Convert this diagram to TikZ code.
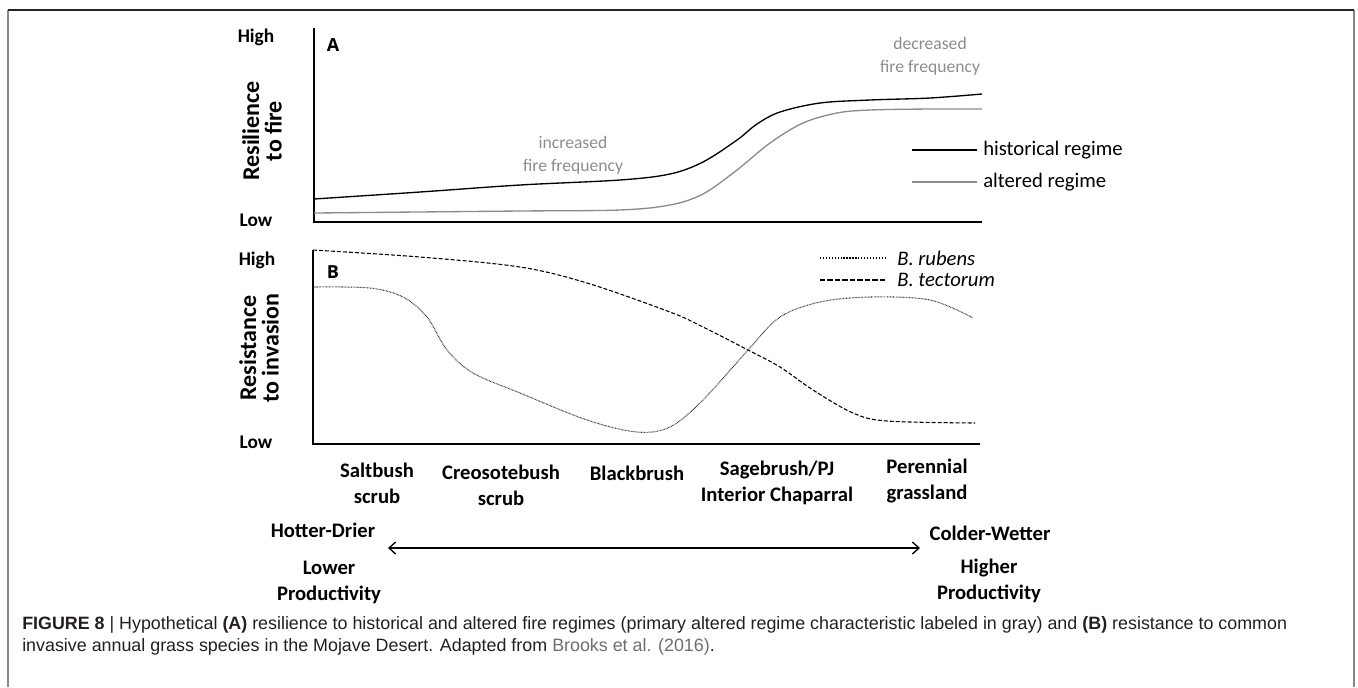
\documentclass[tikz,border=0pt]{standalone}
\usepackage{fontspec}
\setmainfont{Carlito}
\newfontfamily\capfont{Liberation Sans}
\newfontfamily\axfont{Open Sans}
\usetikzlibrary{positioning,arrows.meta}

\definecolor{fregray}{RGB}{140,140,140}
\definecolor{framegray}{RGB}{135,135,135}
\definecolor{capblack}{RGB}{35,31,32}
\definecolor{linkgray}{RGB}{110,110,110}

\tikzset{
    axisline/.style={line width=1.5pt},
    histline/.style={line width=1pt, black},
    altline/.style={line width=1pt, fregray},
    rubensline/.style={line width=0.8pt, black!85, dash pattern=on 0.5pt off 0.6pt},
    tectline/.style={line width=0.8pt, black, dash pattern=on 3pt off 1.5pt},
    lvl/.style={inner sep=0pt, font=\bfseries\fontsize{14.5}{17}\selectfont},
    panel/.style={inner sep=0pt, font=\axfont\bfseries\fontsize{13.5}{16}\selectfont},
    ylab/.style={inner sep=0pt, rotate=90, align=center, font=\bfseries\fontsize{18}{17}\selectfont},
    note/.style={inner sep=0pt, align=center, text=fregray, font=\fontsize{13.2}{17.2}\selectfont},
    legtext/.style={inner sep=0pt, anchor=west, font=\fontsize{15.5}{18}\selectfont},
    veg/.style={inner sep=0pt, align=center, font=\bfseries\fontsize{15.5}{19.5}\selectfont},
}

\begin{document}
\begin{tikzpicture}[x=0.75pt, y=-0.75pt]
    \useasboundingbox (0,0) rectangle (1358,687);

    % frame round figure and caption
    \draw[framegray, line width=1.5pt] (8,687) -- (8,10);
    \draw[framegray, line width=1.5pt] (1354,687) -- (1354,10);
    \draw[black!85, line width=1pt] (8,10) -- (1354,10);

    % panel A
    \coordinate (A0) at (314,222); % origin of A
    \coordinate (Atop) at (314,28);
    \coordinate (Aend) at (982,222);
    \draw[axisline] (Atop) -- (A0) -- (Aend);
    \node[lvl] (Ahigh) at (256,37) {High};
    \node[lvl] (Alow) at (256,220) {Low};
    \node[panel] (Alab) at (333,45) {A};
    \node[ylab] (Aylab) at (262,131) {Resilience\\to fire};

    \draw[histline] plot[smooth, tension=0.55] coordinates {
        (314,199) (420,192) (520,185) (620,180) (670,174) (703,162) (737,140)
        (757,124) (780,112) (820,103) (870,100) (930,98) (982,94)};
    \draw[altline] plot[smooth, tension=0.55] coordinates {
        (314,213) (520,211) (620,210) (670,205) (703,194) (737,170) (770,143)
        (803,123) (837,113) (870,110) (930,109) (982,109)};

    \node[note] (incr) at (573,155) {increased\\fire frequency};
    \node[note] (decr) at (930,56) {decreased\\fire frequency};

    % legend A
    \coordinate (hL) at (912,150);
    \coordinate (hR) at (977,150);
    \coordinate (aL) at (912,182);
    \coordinate (aR) at (977,182);
    \draw[line width=1.8pt] (hL) -- (hR);
    \draw[line width=1.8pt, fregray] (aL) -- (aR);
    \node[legtext, right=4.5pt of hR] (hist) {historical regime};
    \node[legtext, right=4.5pt of aR] (alt) {altered regime};

    % panel B
    \coordinate (B0) at (313,444); % origin of B
    \coordinate (Btop) at (313,250);
    \coordinate (Bend) at (980,444);
    \draw[axisline] (Btop) -- (B0) -- (Bend);
    \node[lvl] (Bhigh) at (257,260) {High};
    \node[lvl] (Blow) at (256,442) {Low};
    \node[panel] (Blab) at (333,272) {B};
    \node[ylab] (Bylab) at (259,348) {Resistance\\to invasion};

    \draw[tectline] plot[smooth, tension=0.55] coordinates {
        (313,250) (420,257) (520,267) (587,283) (670,312) (703,327) (748,350)
        (780,367) (813,390) (853,413) (887,421) (975,423)};
    \draw[rubensline] plot[smooth, tension=0.55] coordinates {
        (313,287) (370,288) (403,297) (427,317) (447,350) (473,373) (520,393)
        (587,420) (637,432) (670,427) (703,400) (748,350) (780,317) (820,302)
        (870,297) (930,300) (973,318)};

    % legend B
    \coordinate (rL) at (820,258);
    \coordinate (rR) at (885,258);
    \coordinate (tL) at (820,280);
    \coordinate (tR) at (885,280);
    \draw[line width=1.5pt, dash pattern=on 1pt off 1.2pt] (rL) -- (rR);
    \draw[line width=1.5pt, dash pattern=on 4pt off 1.6pt] (tL) -- (tR);
    \node[legtext, right=9pt of rR, font=\itshape\fontsize{15.5}{18}\selectfont] (rub) {B. rubens};
    \node[legtext, right=9pt of tR, font=\itshape\fontsize{15.5}{18}\selectfont] (tec) {B. tectorum};

    % vegetation types
    \node[veg] (salt) at (377,483) {Saltbush\\scrub};
    \node[veg] (creo) at (501,485) {Creosotebush\\scrub};
    \node[veg] (black) at (637,473) {Blackbrush};
    \node[veg] (sage) at (777,483) {Sagebrush/PJ\\Interior Chaparral};
    \node[veg] (peren) at (927,481) {Perennial\\grassland};

    % gradient
    \node[veg] (hot) at (323,530) {Hotter-Drier};
    \node[veg] (lowp) at (329,582) {Lower\\Productivity};
    \node[veg] (cold) at (990,533) {Colder-Wetter};
    \node[veg] (highp) at (989,581) {Higher\\Productivity};
    \coordinate (gL) at (388,548);
    \coordinate (gR) at (920,548);
    \draw[line width=1pt, {Straight Barb[length=5pt, width=9pt]}-{Straight Barb[length=5pt, width=9pt]}] (gL) -- (gR);

    % caption
    \node[anchor=base west, inner sep=0pt, align=left, text=capblack,
          font=\capfont\fontsize{13.4}{16.5}\selectfont] (capt) at (22,651)
        {\textbf{FIGURE 8} | Hypothetical \textbf{(A)} resilience to historical and altered fire regimes (primary altered regime characteristic labeled in gray) and \textbf{(B)} resistance to common\\
         invasive annual grass species in the Mojave Desert. Adapted from \textcolor{linkgray}{Brooks et al. (2016)}.};
\end{tikzpicture}
\end{document}
